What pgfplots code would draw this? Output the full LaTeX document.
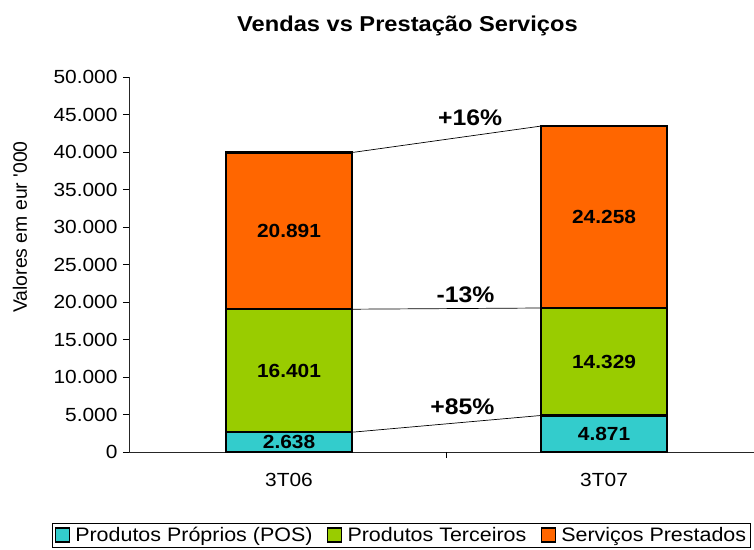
\documentclass[border=0pt]{standalone}
\usepackage{pgfplots}
\pgfplotsset{compat=1.18}
\usepackage{fontspec}
\setmainfont[FakeStretch=1.1]{Liberation Sans}
\newfontfamily\plainsans{Liberation Sans}
\definecolor{cpos}{HTML}{33CCCC}
\definecolor{cter}{HTML}{99CC00}
\definecolor{cser}{HTML}{FF6600}
\newcommand{\vfont}{\fontsize{19}{22}\selectfont\bfseries}
\newcommand{\pfont}{\fontsize{22.5}{24}\selectfont\bfseries}
\pgfplotsset{
  base/.style={scale only axis, width=625pt, height=375pt,
    xmin=-0.508, xmax=1.476, ymin=0, ymax=50000,
    at={(129pt,97pt)}, anchor=south west},
  leg/.style={legend image code/.code={\path[draw=none,fill=none] (-1pt,-1pt) rectangle (18pt,1pt); \draw[##1, line width=1.5pt] (0pt,-7pt) rectangle (14pt,7pt);}},
}
\begin{document}
\begin{tikzpicture}
\useasboundingbox (0,0) rectangle (754pt,549pt);
\begin{axis}[base, ybar stacked, bar width=126pt,
  axis x line=bottom, axis y line=left,
  axis line style={-, line width=0.8pt, black!85},
  tick align=outside, major tick length=6pt,
  tick style={black, line width=0.6pt},
  ytick distance=5000, scaled y ticks=false,
  /pgf/number format/1000 sep={.},
  /pgf/number format/assume math mode=true,
  tick label style={font=\fontsize{19}{22}\selectfont},
  yticklabel style={xshift=-2pt},
  xtick={0,1}, xticklabels={3T06,3T07},
  xtick style={draw=none},
  xticklabel style={yshift=-12pt},
  title={\bfseries Vendas vs Prestação Serviços},
  title style={at={(0.4456,1.104)}, anchor=base, font=\fontsize{21.5}{24}\selectfont},
  ylabel={\plainsans\fontsize{19.4}{22}\selectfont Valores em eur '000},
  ylabel style={at={(axis description cs:-0.1744,0.6)}, anchor=center},
  legend style={at={(-0.1232,-0.1893)}, anchor=north west, legend columns=-1,
    draw=black, line width=0.6pt, font=\fontsize{19.5}{22}\selectfont,
    inner sep=2pt, /tikz/every even column/.append style={column sep=12pt}},
]
\addplot[fill=cpos, draw=black, line width=2.2pt, leg] coordinates {(0,2638) (1,4871)};
\addplot[fill=cter, draw=black, line width=2.2pt, leg] coordinates {(0,16401) (1,14329)};
\addplot[fill=cser, draw=black, line width=2.2pt, leg] coordinates {(0,20891) (1,24258)};
\legend{Produtos Próprios (POS), Produtos Terceiros, Serviços Prestados}
\end{axis}
\begin{axis}[base, axis x line=bottom, axis y line=none,
  axis line style={draw=none},
  tick align=outside, major tick length=6pt,
  tick style={black, line width=0.6pt},
  xtick={0.5}, xticklabels={}, ytick=\empty]
\addplot[black, line width=0.7pt] coordinates {(0.2,2638) (0.8,4871)};
\addplot[black, line width=0.7pt] coordinates {(0.2,19039) (0.8,19200)};
\addplot[black, line width=0.7pt] coordinates {(0.2,39930) (0.8,43458)};
\node[font=\pfont] at (axis cs:0.575,44533) {+16\%};
\node[font=\pfont] at (axis cs:0.56,20933) {-13\%};
\node[font=\pfont] at (axis cs:0.55,6040) {+85\%};
\node[font=\vfont] at (axis cs:0,1319) {2.638};
\node[font=\vfont] at (axis cs:0,10838) {16.401};
\node[font=\vfont] at (axis cs:0,29485) {20.891};
\node[font=\vfont] at (axis cs:1,2435) {4.871};
\node[font=\vfont] at (axis cs:1,12036) {14.329};
\node[font=\vfont] at (axis cs:1,31329) {24.258};
\end{axis}
\end{tikzpicture}
\end{document}
